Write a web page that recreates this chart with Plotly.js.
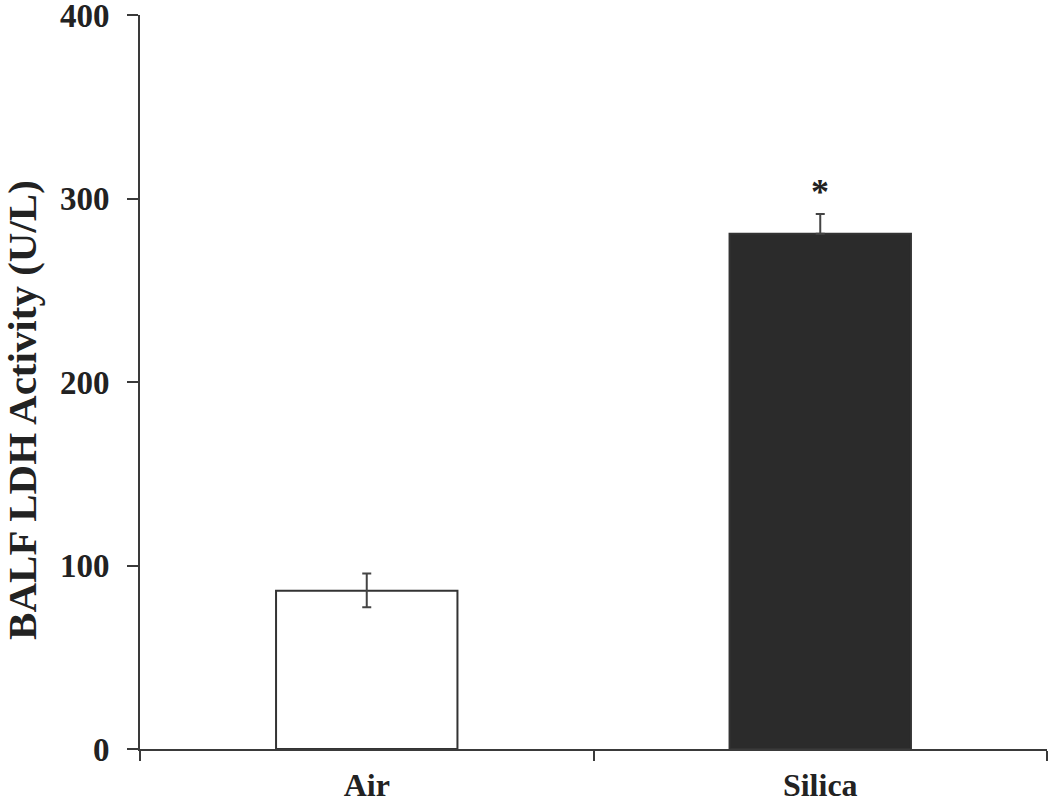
<!DOCTYPE html>
<html><head><meta charset="utf-8">
<script src="https://cdn.plot.ly/plotly-3.0.1.min.js"></script>
<style>html,body{margin:0;padding:0;background:#fff}</style>
</head><body>
<div id="chart" style="width:1050px;height:804px"></div>
<script>
const categories = ["Air", "Silica"];
const meanValues = [86.2, 280.8];
const errorPlus = [9.5, 10.8];
const errorMinus = [9.0, 0];
const barColors = ["#ffffff", "#2b2b2b"];
const yTickValues = [0, 100, 200, 300, 400];
const significance = ["", "*"];
const yTitle = "BALF LDH Activity (U/L)";

const font = {family: "Liberation Serif, Times New Roman, serif", color: "#222", weight: "bold"};

const trace = {
  type: "bar",
  x: categories,
  y: meanValues,
  width: 0.4,
  marker: {color: barColors, line: {color: "#333", width: 2}},
  error_y: {type: "data", symmetric: false, array: errorPlus, arrayminus: errorMinus,
            color: "#444", thickness: 2, width: 4.5},
  hoverinfo: "skip"
};

const annotations = categories.map((c, i) => ({
  x: c, y: meanValues[i] + errorPlus[i], xref: "x", yref: "y",
  text: significance[i], showarrow: false, yanchor: "bottom", yshift: 0,
  font: Object.assign({}, font, {size: 36})
})).filter(a => a.text);

annotations.push({
  xref: "paper", yref: "paper", x: 0, y: 0.462, xshift: -118, xanchor: "center", yanchor: "middle",
  text: yTitle, textangle: -90, showarrow: false,
  font: Object.assign({}, font, {size: 41})
});

const layout = {
  width: 1050, height: 804,
  margin: {l: 140, r: 3, t: 15, b: 55},
  paper_bgcolor: "#fff", plot_bgcolor: "#fff",
  showlegend: false,
  bargap: 0.6,
  xaxis: {
    type: "category", range: [-0.5, 1.5], showline: true, linecolor: "#3a3a3a", linewidth: 2,
    ticks: "outside", tickson: "boundaries", ticklen: 10, tickwidth: 2, tickcolor: "#3a3a3a",
    showgrid: false, zeroline: false,
    tickfont: Object.assign({}, font, {size: 32}), ticklabelstandoff: 7
  },
  yaxis: {
    range: [0, 400], tickvals: yTickValues, showline: true, linecolor: "#3a3a3a", linewidth: 2,
    ticks: "outside", ticklen: 11, tickwidth: 2, tickcolor: "#3a3a3a",
    showgrid: false, zeroline: false, ticklabeloverflow: "allow",
    tickfont: Object.assign({}, font, {size: 33}), ticklabelstandoff: 11
  },
  annotations: annotations
};

Plotly.newPlot("chart", [trace], layout, {displayModeBar: false, staticPlot: true});
</script>
</body></html>
